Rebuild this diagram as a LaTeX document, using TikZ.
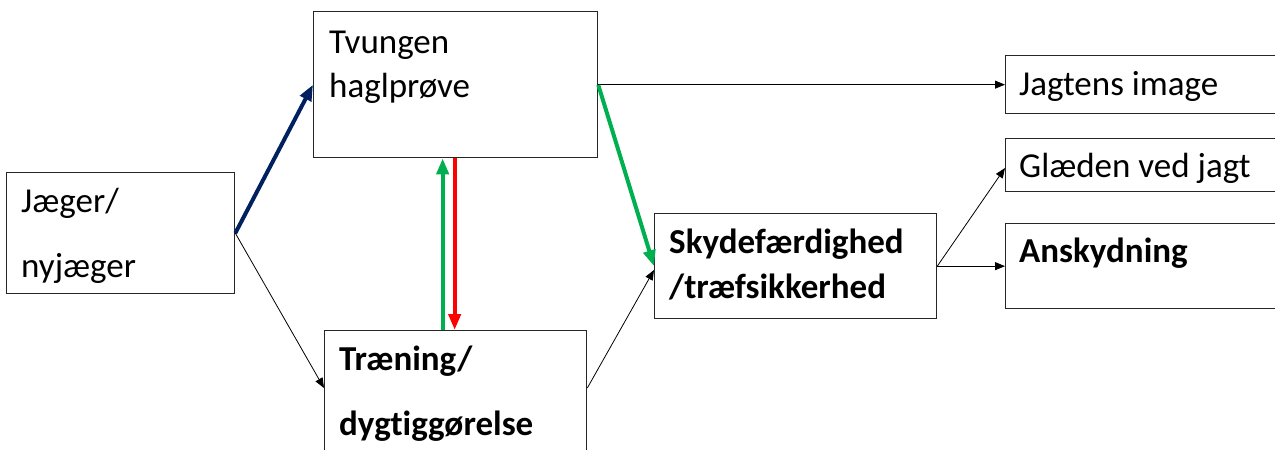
\documentclass[tikz,border=0pt]{standalone}
\usepackage{fontspec}
\setmainfont[Ligatures={NoCommon}]{Carlito}
\usetikzlibrary{arrows.meta,calc}
\definecolor{navy}{HTML}{002060}
\definecolor{okgreen}{HTML}{00B050}
\definecolor{okred}{HTML}{FF0000}
\tikzset{
  box/.style={draw=black!85, line width=1.3pt, inner sep=0pt, anchor=north west},
  txt/.style={inner sep=0pt, anchor=base west, font=\fontsize{35}{40}\selectfont},
  btxt/.style={txt, font=\fontsize{35}{40}\selectfont\bfseries},
  thin/.style={draw=black, line width=0.8pt, -{Triangle[length=10pt,width=8pt]}},
  thick/.style={line width=4pt, -{Triangle[length=16pt,width=12pt]}},
}
\begin{document}
\begin{tikzpicture}[x=1pt,y=-1pt]
\useasboundingbox (0,0) rectangle (1275,450);
\clip (0,0) rectangle (1275,450);
% boxes
\node[box, minimum width=228pt, minimum height=121pt] (jg) at (6,172) {};
\node[box, minimum width=284pt, minimum height=146pt] (tv) at (313,11) {};
\node[box, minimum width=262pt, minimum height=130pt] (tr) at (324,330) {};
\node[box, minimum width=282pt, minimum height=105pt] (sk) at (654,213) {};
\node[box, minimum width=290pt, minimum height=58pt] (ji) at (1005,55) {};
\node[box, minimum width=290pt, minimum height=53pt] (gl) at (1005,138) {};
\node[box, minimum width=290pt, minimum height=85pt] (an) at (1005,223) {};
% texts
\node[txt] (jg1) at ($(jg.north west)+(15,40)$) {Jæger/};
\node[txt] (jg2) at ($(jg.north west)+(15,105)$) {nyjæger};
\node[txt] (tv1) at ($(tv.north west)+(16,42)$) {Tvungen};
\node[txt] (tv2) at ($(tv.north west)+(16,86)$) {haglprøve};
\node[btxt] (tr1) at ($(tr.north west)+(15,40)$) {Træning/};
\node[btxt] (tr2) at ($(tr.north west)+(15,105)$) {dygtiggørelse};
\node[btxt] (sk1) at ($(sk.north west)+(15,40)$) {Skydefærdighed};
\node[btxt] (sk2) at ($(sk.north west)+(15,85)$) {/træfsikkerhed};
\node[txt] (ji1) at ($(ji.north west)+(14,40)$) {Jagtens image};
\node[txt] (gl1) at ($(gl.north west)+(14,39)$) {Glæden ved jagt};
\node[btxt] (an1) at ($(an.north west)+(14,39)$) {Anskydning};
% connectors
\coordinate (trin) at ($(tr.north west)+(0,58)$);
\coordinate (trout) at ($(tr.north east)+(0,58)$);
\coordinate (tvout) at ($(tv.north east)+(0,74)$);
\coordinate (skin) at ($(sk.north west)+(0,57)$);
\coordinate (glin) at ($(gl.north west)+(0,30)$);
\draw[thick, draw=navy, fill=navy] (jg.east) -- (tv.west);
\draw[thin] (jg.east) -- (trin);
\draw[thin] (tv.east) -- (ji.west);
\draw[thin] (trout) -- (skin);
\draw[thick, draw=okgreen, fill=okgreen] (tvout) -- (sk.west);
\draw[thick, draw=okgreen, fill=okgreen] ($(tr.north)+(-13,0)$) -- ($(tv.south)+(-13,0)$);
\draw[thick, draw=okred, fill=okred] ($(tv.south)+(-1,0)$) -- ($(tr.north)+(-1,0)$);
\draw[thin] (sk.east) -- (glin);
\draw[thin] (sk.east) -- (an.west);
\end{tikzpicture}
\end{document}
